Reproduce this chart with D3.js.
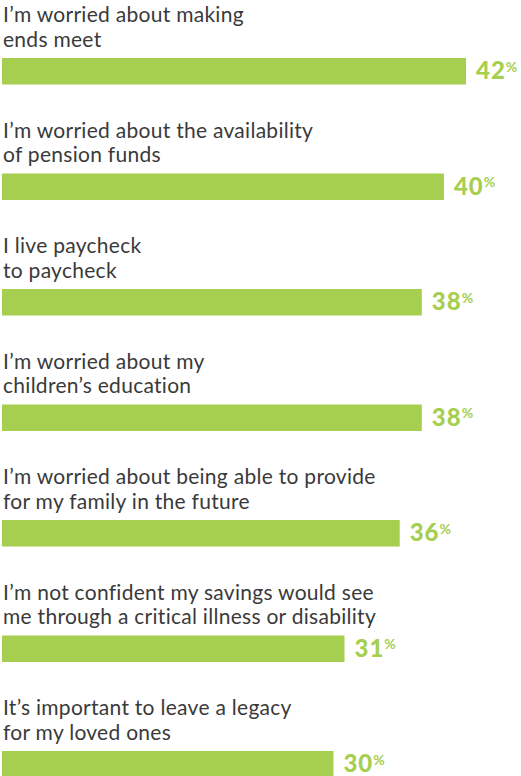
<!DOCTYPE html>
<html>
<head>
<meta charset="utf-8">
<script src="https://cdn.jsdelivr.net/npm/d3@7"></script>
<style>
  html, body { margin: 0; padding: 0; background: #fff; }
  svg { display: block; }
</style>
</head>
<body>
<svg id="chart" width="521" height="776"></svg>
<script>
// Survey statements, each split over two lines
const statements = [
  ["I\u2019m worried about making", "ends meet"],
  ["I\u2019m worried about the availability", "of pension funds"],
  ["I live paycheck", "to paycheck"],
  ["I\u2019m worried about my", "children\u2019s education"],
  ["I\u2019m worried about being able to provide", "for my family in the future"],
  ["I\u2019m not confident my savings would see", "me through a critical illness or disability"],
  ["It\u2019s important to leave a legacy", "for my loved ones"]
];
// Share of respondents agreeing (%)
const shares = [42, 40, 38, 38, 36, 31, 30];

const GREEN = "#a6ce4f";
const TEXT = "#3a3a3a";

const svg = d3.select("#chart");

const x = d3.scaleLinear().domain([0, 42]).range([2, 466]);
const y = d3.scaleBand()
  .domain(d3.range(statements.length))
  .range([58, 777.5])
  .paddingInner(0.7706)
  .paddingOuter(0);

const rows = svg.selectAll("g.row")
  .data(statements.map((lines, i) => ({ lines, value: shares[i], i })))
  .join("g")
  .attr("class", "row");

// Statement text above each bar
rows.append("text")
  .attr("font-family", "Lato, 'Open Sans', sans-serif")
  .attr("font-size", 21)
  .attr("letter-spacing", 0.28)
  .attr("fill", TEXT)
  .selectAll("tspan")
  .data(d => d.lines.map((t, k) => ({ t, k, i: d.i })))
  .join("tspan")
  .attr("x", 3)
  .attr("y", d => y(d.i) - 36 + d.k * 24.5)
  .text(d => d.t);

// Bars
rows.append("rect")
  .attr("x", x(0))
  .attr("y", d => y(d.i))
  .attr("width", d => x(d.value) - x(0))
  .attr("height", y.bandwidth())
  .attr("fill", GREEN);

// Value labels with a smaller raised percent sign
const vl = rows.append("text")
  .attr("x", d => x(d.value) + 10)
  .attr("y", d => y(d.i) + y.bandwidth() / 2 + 8)
  .attr("font-family", "Lato, 'Open Sans', sans-serif")
  .attr("font-weight", 900)
  .attr("fill", GREEN);

vl.append("tspan")
  .attr("font-size", 24)
  .attr("letter-spacing", 1)
  .text(d => d.value);

vl.append("tspan")
  .attr("font-size", 14)
  .attr("font-weight", 700)
  .attr("dy", -7.5)
  .attr("dx", 0)
  .text("%");
</script>
</body>
</html>
